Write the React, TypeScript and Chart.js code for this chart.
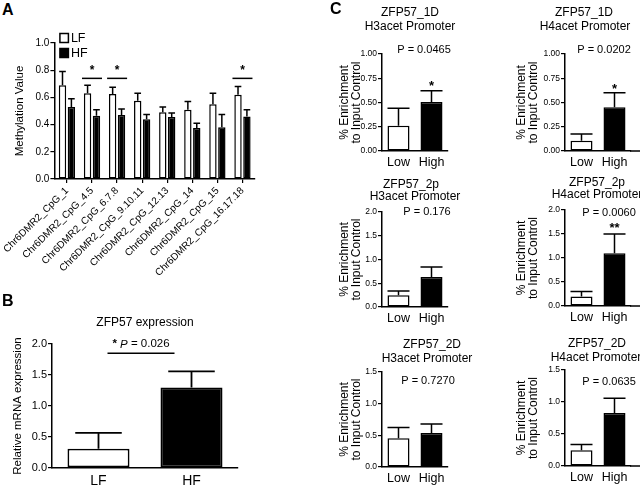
import React, { useEffect, useRef } from "react";
import { Chart, registerables } from "chart.js";
Chart.register(...registerables);

const FONT = "Arial, 'Liberation Sans', Helvetica, sans-serif";
Chart.defaults.font.family = FONT;
Chart.defaults.color = "#000";

// ---------------- Panel A: methylation ----------------
const cpgLabels = [
  "Chr6DMR2_CpG_1",
  "Chr6DMR2_CpG_4.5",
  "Chr6DMR2_CpG_6.7.8",
  "Chr6DMR2_CpG_9.10.11",
  "Chr6DMR2_CpG_12.13",
  "Chr6DMR2_CpG_14",
  "Chr6DMR2_CpG_15",
  "Chr6DMR2_CpG_16.17.18",
];
const lfMethylation = [0.69, 0.63, 0.625, 0.575, 0.49, 0.51, 0.55, 0.62];
const lfMethylationErr = [0.1, 0.06, 0.05, 0.055, 0.04, 0.06, 0.08, 0.06];
const hfMethylation = [0.53, 0.465, 0.47, 0.44, 0.455, 0.375, 0.38, 0.46];
const hfMethylationErr = [0.06, 0.045, 0.045, 0.035, 0.03, 0.035, 0.095, 0.05];
const methSignificant = [1, 2, 7];
const methSigLevel = 0.74;
const methStarLevel = 0.82;

// ---------------- Panel B: expression ----------------
const exprGroups = ["LF", "HF"];
const exprValues = [0.31, 1.3];
const exprErr = [0.255, 0.26];
const exprSigLevel = 1.85;
const exprPValue = "0.026";

// ---------------- Panel C: ChIP enrichment ----------------
const chipGroups = ["Low", "High"];
const h3_1D = [0.26, 0.505];
const h3_1D_err = [0.18, 0.115];
const h4_1D = [0.105, 0.45];
const h4_1D_err = [0.07, 0.15];
const h3_2p = [0.25, 0.63];
const h3_2p_err = [0.085, 0.21];
const h4_2p = [0.2, 1.1];
const h4_2p_err = [0.1, 0.4];
const h3_2D = [0.455, 0.535];
const h3_2D_err = [0.17, 0.145];
const h4_2D = [0.245, 0.83];
const h4_2D_err = [0.09, 0.23];

type Txt = { text: string; x: number; y: number; size: number; weight?: string };
type DS = { label: string; data: number[]; err: number[]; bg: string | string[] };
type Spec = {
  box: [number, number, number, number];
  area: [number, number, number, number];
  yWidth: number;
  labels: string[];
  datasets: DS[];
  yMax: number;
  yStep: number;
  decimals: number;
  yTickSize: number;
  yTitle: string | string[];
  yTitleSize: number;
  yTitlePad: number;
  yTitleLH: number;
  xTickSize: number;
  xRotation: number;
  xTickMarks: boolean;
  xTickPad: number;
  catPct: number;
  barPct: number;
  capRatio: number;
  borderWidth: number;
  axisWidth: number;
  texts: Txt[];
  stars?: { index: number; text: string; size: number; gap: number }[];
  extendAxis?: boolean;
  extra?: (chart: any, ctx: CanvasRenderingContext2D) => void;
};

function buildConfig(spec: Spec): any {
  const [bx, by, bw, bh] = spec.box;
  const [L, T, R, B] = spec.area;
  const xHeight = by + bh - B;
  const plugin = {
    id: "annot",
    afterDatasetsDraw(chart: any) {
      const ctx = chart.ctx as CanvasRenderingContext2D;
      const ys = chart.scales.y;
      ctx.save();
      ctx.strokeStyle = "#000";
      ctx.lineWidth = spec.borderWidth;
      spec.datasets.forEach((ds, i) => {
        const meta = chart.getDatasetMeta(i);
        meta.data.forEach((el: any, j: number) => {
          const x = el.x;
          const w = el.width;
          const top = ys.getPixelForValue(ds.data[j] + ds.err[j]);
          ctx.beginPath();
          ctx.moveTo(x, el.y);
          ctx.lineTo(x, top);
          ctx.moveTo(x - (w * spec.capRatio) / 2, top);
          ctx.lineTo(x + (w * spec.capRatio) / 2, top);
          ctx.stroke();
        });
      });
      ctx.restore();
    },
    afterDraw(chart: any) {
      const ctx = chart.ctx as CanvasRenderingContext2D;
      const ys = chart.scales.y;
      ctx.save();
      ctx.fillStyle = "#000";
      ctx.textAlign = "center";
      ctx.textBaseline = "middle";
      spec.texts.forEach((t) => {
        ctx.font = `${t.weight || "normal"} ${t.size}px ${FONT}`;
        ctx.fillText(t.text, t.x - bx, t.y - by);
      });
      (spec.stars || []).forEach((s) => {
        const el: any = chart.getDatasetMeta(0).data[s.index];
        const ds = spec.datasets[0];
        const top = ys.getPixelForValue(ds.data[s.index] + ds.err[s.index]);
        ctx.font = `bold ${s.size}px ${FONT}`;
        ctx.textBaseline = "alphabetic";
        ctx.fillText(s.text, el.x, top - s.gap + s.size * 0.6);
      });
      if (spec.extendAxis) {
        const ca = chart.chartArea;
        ctx.strokeStyle = "#000";
        ctx.lineWidth = spec.axisWidth;
        ctx.beginPath();
        ctx.moveTo(ca.right - 1, ca.bottom);
        ctx.lineTo(chart.width, ca.bottom);
        ctx.stroke();
      }
      if (spec.extra) spec.extra(chart, ctx);
      ctx.restore();
    },
  };
  return {
    type: "bar",
    data: {
      labels: spec.labels,
      datasets: spec.datasets.map((d) => ({
        label: d.label,
        data: d.data,
        backgroundColor: d.bg,
        borderColor: "#000",
        borderWidth: spec.borderWidth,
        borderSkipped: false,
        categoryPercentage: spec.catPct,
        barPercentage: spec.barPct,
      })),
    },
    options: {
      responsive: false,
      maintainAspectRatio: false,
      animation: false,
      devicePixelRatio: 1,
      events: [],
      layout: {
        padding: { left: L - bx - spec.yWidth, top: T - by, right: bx + bw - R, bottom: 0 },
      },
      plugins: { legend: { display: false }, title: { display: false }, tooltip: { enabled: false } },
      scales: {
        x: {
          type: "category",
          offset: true,
          grid: {
            display: true,
            offset: false,
            drawOnChartArea: false,
            drawTicks: spec.xTickMarks,
            tickLength: 4,
            color: "#000",
            lineWidth: 1.2,
          },
          border: { display: true, color: "#000", width: spec.axisWidth },
          ticks: {
            color: "#000",
            font: { family: FONT, size: spec.xTickSize },
            maxRotation: spec.xRotation,
            minRotation: spec.xRotation,
            autoSkip: false,
            padding: spec.xTickPad,
          },
          afterFit: (s: any) => {
            s.height = xHeight;
          },
        },
        y: {
          min: 0,
          max: spec.yMax,
          grid: {
            display: true,
            drawOnChartArea: false,
            drawTicks: true,
            tickLength: 4,
            color: "#000",
            lineWidth: 1.2,
          },
          border: { display: true, color: "#000", width: spec.axisWidth },
          ticks: {
            stepSize: spec.yStep,
            color: "#000",
            padding: 1,
            font: { family: FONT, size: spec.yTickSize },
            callback: (v: any) => Number(v).toFixed(spec.decimals),
          },
          title: {
            display: true,
            text: spec.yTitle,
            color: "#000",
            font: { family: FONT, size: spec.yTitleSize, lineHeight: spec.yTitleLH },
            padding: { top: spec.yTitlePad, bottom: 0 },
          },
          afterFit: (s: any) => {
            s.width = spec.yWidth;
          },
        },
      },
    },
    plugins: [plugin],
  };
}

function BarPanel({ spec }: { spec: Spec }) {
  const ref = useRef<HTMLCanvasElement>(null);
  useEffect(() => {
    const chart = new Chart(ref.current as HTMLCanvasElement, buildConfig(spec));
    return () => chart.destroy();
  }, []);
  const [bx, by, bw, bh] = spec.box;
  return (
    <canvas
      ref={ref}
      width={bw}
      height={bh}
      style={{ position: "absolute", left: bx, top: by, width: bw, height: bh }}
    />
  );
}

// ---------- Panel A spec ----------
const specA: Spec = {
  box: [0, 20, 270, 270],
  area: [52, 43, 255, 179],
  yWidth: 52,
  labels: cpgLabels,
  datasets: [
    { label: "LF", data: lfMethylation, err: lfMethylationErr, bg: "#ffffff" },
    { label: "HF", data: hfMethylation, err: hfMethylationErr, bg: "#000000" },
  ],
  yMax: 1,
  yStep: 0.2,
  decimals: 1,
  yTickSize: 10,
  yTitle: "Methylation Value",
  yTitleSize: 11.5,
  yTitlePad: 11,
  yTitleLH: 1.2,
  xTickSize: 10,
  xRotation: 45,
  xTickMarks: true,
  xTickPad: 2,
  catPct: 0.71,
  barPct: 0.83,
  capRatio: 0.9,
  borderWidth: 1.5,
  axisWidth: 1.5,
  texts: [],
  extra: (chart, ctx) => {
    const xs = chart.scales.x;
    const ys = chart.scales.y;
    const ca = chart.chartArea;
    // legend
    ctx.lineWidth = 1.5;
    ctx.strokeStyle = "#000";
    ctx.textAlign = "left";
    ctx.textBaseline = "middle";
    ctx.font = `12.5px ${FONT}`;
    chart.data.datasets.forEach((d: any, i: number) => {
      const lx = ca.left + 5.5;
      const ly = ca.top - 9.5 + i * 15;
      ctx.fillStyle = d.backgroundColor;
      ctx.fillRect(lx, ly, 8.5, 9);
      ctx.strokeRect(lx, ly, 8.5, 9);
      ctx.fillStyle = "#000";
      ctx.fillText(d.label, lx + 11, ly + 5);
    });
    // significance
    ctx.textAlign = "center";
    methSignificant.forEach((i) => {
      const cx = xs.getPixelForValue(i);
      const yl = ys.getPixelForValue(methSigLevel);
      ctx.beginPath();
      ctx.moveTo(cx - 10, yl);
      ctx.lineTo(cx + 10, yl);
      ctx.stroke();
      ctx.font = `bold 12px ${FONT}`;
      ctx.textBaseline = "alphabetic";
      ctx.fillText("*", cx, ys.getPixelForValue(methStarLevel) + 7);
    });
  },
};

// ---------- Panel B spec ----------
const specB: Spec = {
  box: [0, 300, 260, 188],
  area: [52, 344, 238, 468],
  yWidth: 52,
  labels: exprGroups,
  datasets: [{ label: "expr", data: exprValues, err: exprErr, bg: ["#ffffff", "#000000"] }],
  yMax: 2,
  yStep: 0.5,
  decimals: 1,
  yTickSize: 11,
  yTitle: "Relative mRNA expression",
  yTitleSize: 11.5,
  yTitlePad: 11,
  yTitleLH: 1.2,
  xTickSize: 14,
  xRotation: 0,
  xTickMarks: false,
  xTickPad: 5,
  catPct: 1,
  barPct: 0.667,
  capRatio: 0.75,
  borderWidth: 1.8,
  axisWidth: 1.5,
  texts: [{ text: "ZFP57 expression", x: 145, y: 323, size: 12 }],
  extra: (chart, ctx) => {
    const xs = chart.scales.x;
    const ys = chart.scales.y;
    const x1 = xs.getPixelForValue(0) + 9;
    const x2 = xs.getPixelForValue(1) - 17;
    const yl = ys.getPixelForValue(exprSigLevel);
    ctx.strokeStyle = "#000";
    ctx.lineWidth = 1.5;
    ctx.beginPath();
    ctx.moveTo(x1, yl);
    ctx.lineTo(x2, yl);
    ctx.stroke();
    const parts = [
      { t: "* ", f: `bold 11.5px ${FONT}` },
      { t: "P", f: `italic 11.5px ${FONT}` },
      { t: " = " + exprPValue, f: `11.5px ${FONT}` },
    ];
    let total = 0;
    parts.forEach((p) => {
      ctx.font = p.f;
      total += ctx.measureText(p.t).width;
    });
    let x = (x1 + x2) / 2 - total / 2;
    ctx.textAlign = "left";
    ctx.textBaseline = "middle";
    ctx.fillStyle = "#000";
    parts.forEach((p) => {
      ctx.font = p.f;
      ctx.fillText(p.t, x, yl - 9);
      x += ctx.measureText(p.t).width;
    });
  },
};

// ---------- Panel C specs ----------
function chipSpec(
  col: number,
  box: [number, number, number, number],
  area: [number, number, number, number],
  data: number[],
  err: number[],
  yMax: number,
  yStep: number,
  decimals: number,
  texts: Txt[],
  stars?: { index: number; text: string; size: number; gap: number }[]
): Spec {
  return {
    box,
    area,
    yWidth: col === 0 ? 57 : 60,
    labels: chipGroups,
    datasets: [{ label: "enrichment", data, err, bg: ["#ffffff", "#000000"] }],
    yMax,
    yStep,
    decimals,
    yTickSize: 8.5,
    yTitle: ["% Enrichment", "to Input Control"],
    yTitleSize: 12,
    yTitlePad: col === 0 ? 13.5 : 10.5,
    yTitleLH: 1.0,
    xTickSize: 12.5,
    xRotation: 0,
    xTickMarks: false,
    xTickPad: 4,
    catPct: 1,
    barPct: 0.667,
    capRatio: 1,
    borderWidth: 1.5,
    axisWidth: 1.5,
    texts,
    stars,
    extendAxis: col === 1,
  };
}

const specsC: Spec[] = [
  chipSpec(0, [325, 0, 165, 170], [382, 54, 448, 151], h3_1D, h3_1D_err, 1, 0.25, 2, [
    { text: "ZFP57_1D", x: 410, y: 13, size: 12 },
    { text: "H3acet Promoter", x: 410, y: 27, size: 12 },
    { text: "P = 0.0465", x: 424, y: 50, size: 11 },
  ], [{ index: 1, text: "*", size: 13, gap: 9 }]),
  chipSpec(1, [505, 0, 135, 170], [565, 54, 631, 151], h4_1D, h4_1D_err, 1, 0.25, 2, [
    { text: "ZFP57_1D", x: 584, y: 13, size: 12 },
    { text: "H4acet Promoter", x: 585, y: 27, size: 12 },
    { text: "P = 0.0202", x: 604, y: 50, size: 11 },
  ], [{ index: 1, text: "*", size: 13, gap: 8 }]),
  chipSpec(0, [325, 170, 165, 160], [382, 212, 448, 307], h3_2p, h3_2p_err, 2, 0.5, 1, [
    { text: "ZFP57_2p", x: 411, y: 185, size: 12 },
    { text: "H3acet Promoter", x: 415, y: 197, size: 12 },
    { text: "P = 0.176", x: 427, y: 212, size: 11 },
  ]),
  chipSpec(1, [505, 170, 135, 160], [565, 210, 631, 306], h4_2p, h4_2p_err, 2, 0.5, 1, [
    { text: "ZFP57_2p", x: 597, y: 183, size: 12 },
    { text: "H4acet Promoter", x: 597, y: 195, size: 12 },
    { text: "P = 0.0060", x: 609, y: 213, size: 11 },
  ], [{ index: 1, text: "**", size: 13, gap: 10 }]),
  chipSpec(0, [325, 330, 165, 158], [382, 372, 448, 467], h3_2D, h3_2D_err, 1.5, 0.5, 1, [
    { text: "ZFP57_2D", x: 432, y: 345, size: 12 },
    { text: "H3acet Promoter", x: 427, y: 359, size: 12 },
    { text: "P = 0.7270", x: 428, y: 381, size: 11 },
  ]),
  chipSpec(1, [505, 330, 135, 158], [565, 370, 631, 466], h4_2D, h4_2D_err, 1.5, 0.5, 1, [
    { text: "ZFP57_2D", x: 597, y: 344, size: 12 },
    { text: "H4acet Promoter", x: 596, y: 358, size: 12 },
    { text: "P = 0.0635", x: 609, y: 382, size: 11 },
  ]),
];

const letterStyle = (left: number, top: number): React.CSSProperties => ({
  position: "absolute",
  left,
  top,
  fontFamily: FONT,
  fontWeight: "bold",
  fontSize: 16,
  lineHeight: "16px",
  color: "#000",
});

export default function App() {
  return (
    <div
      style={{
        position: "fixed",
        left: 0,
        top: 0,
        width: 640,
        height: 488,
        background: "#fff",
        overflow: "hidden",
      }}
    >
      <BarPanel spec={specA} />
      <BarPanel spec={specB} />
      {specsC.map((s, i) => (
        <BarPanel key={i} spec={s} />
      ))}
      <div style={letterStyle(2, 2)}>A</div>
      <div style={letterStyle(2, 293)}>B</div>
      <div style={letterStyle(330, 1)}>C</div>
    </div>
  );
}
